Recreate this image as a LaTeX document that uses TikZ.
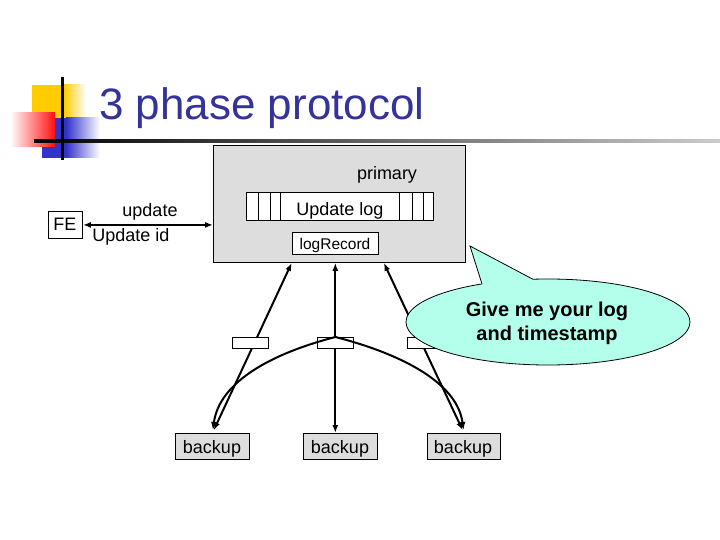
\documentclass[tikz,border=0pt]{standalone}
\usepackage{fontspec}
\setmainfont{Liberation Sans}
\usetikzlibrary{arrows.meta}
\definecolor{titleblue}{HTML}{333399}
\definecolor{boxgray}{HTML}{DDDDDD}
\definecolor{bubble}{HTML}{B4FFEC}
\definecolor{decoyellow}{HTML}{FFCC00}
\definecolor{decoblue}{HTML}{3333CC}
\definecolor{decored}{HTML}{FF1010}
\tikzset{
  plainbox/.style={draw, line width=0.9pt, fill=white, inner sep=0pt, anchor=north west},
  graybox/.style={plainbox, fill=boxgray},
  txt/.style={inner sep=0pt, anchor=base, font=\fontsize{18}{20}\selectfont},
  link/.style={line width=2pt, {Latex[length=8pt,width=6pt]}-{Latex[length=8pt,width=6pt]}},
  tolink/.style={line width=2pt, -{Latex[length=8pt,width=6pt]}}
}
\begin{document}
\begin{tikzpicture}[x=1pt,y=-1pt]
  \useasboundingbox (0,0) rectangle (720,540);
  % title decoration
  \fill [decoyellow] (32,85) rectangle (64,120);
  \shade [left color=decoyellow,right color=white] (64,85) rectangle (86,120);
  \fill [decoblue] (42,118) rectangle (66,158);
  \shade [left color=decoblue,right color=white] (66,118) rectangle (100,158);
  \shade [left color=white,right color=decored] (10,113) rectangle (55,147);
  \shade [left color=black,right color=black!20] (34,139.5) rectangle (720,142.5);
  \draw [line width=3pt] (62,77) -- (62,160);
  \node [inner sep=0pt, anchor=base west, text=titleblue, font=\fontsize{44}{48}\selectfont] (title) at (99,120) {3 phase protocol};

  % primary
  \node [graybox, minimum width=252pt, minimum height=117pt] (primary) at (213,145) {};
  \node [txt] (primlabel) at (387,180) {primary};
  \node [plainbox, minimum width=187pt, minimum height=28pt] (log) at (246,192) {};
  \foreach \x in {258,270,280,399,412,423}
    \draw [line width=0.9pt] (\x,192) -- (\x,220);
  \node [txt] (loglabel) at (340,215) {Update log};
  \node [plainbox, minimum width=86pt, minimum height=22pt] (rec) at (292,232) {};
  \node [txt, font=\fontsize{15.5}{18}\selectfont] (reclabel) at (335,249) {logRecord};

  % front end
  \node [plainbox, minimum width=34pt, minimum height=27pt] (FE) at (48,211) {};
  \node [txt] (FElabel) at (65,230) {FE};
  \draw [link] (FE.east) -- (FE.east -| primary.west);
  \node [txt] (upd) at (150,216) {update};
  \node [txt] (updid) at (131,241) {Update id};

  % backups
  \node [graybox, minimum width=74pt, minimum height=26pt] (b1) at (175,433) {};
  \node [graybox, minimum width=74pt, minimum height=26pt] (b2) at (303,433) {};
  \node [graybox, minimum width=73pt, minimum height=26pt] (b3) at (427,433) {};
  \node [txt] (b1label) at (212,453) {backup};
  \node [txt] (b2label) at (340,453) {backup};
  \node [txt] (b3label) at (463,453) {backup};

  \draw [link, shorten >=3pt] (primary.231) -- (b1.north);
  \draw [link] (primary.266) -- (primary.266 |- b2.north);
  \draw [link, shorten >=3pt] (primary.307) -- (b3.north);

  \node [plainbox, minimum width=36pt, minimum height=11pt] (m1) at (232,337) {};
  \node [plainbox, minimum width=36pt, minimum height=11pt] (m2) at (317,337) {};
  \node [plainbox, minimum width=35pt, minimum height=11pt] (m3) at (407,337) {};

  \draw [tolink, shorten >=3pt] (m2.north) .. controls +(-62,16) and +(7,-52) .. (b1.north);
  \draw [tolink, shorten >=3pt] (m2.north) .. controls +(62,16) and +(-7,-52) .. (b3.north);

  % callout
  \fill [bubble] (548,322) ellipse [x radius=142, y radius=43];
  \draw [line width=0.8pt] (548,322) ellipse [x radius=142, y radius=43];
  \fill [bubble] (482,284) -- (470,246) -- (533,279.3) -- (533,286) -- (482,289) -- cycle;
  \draw [line width=0.8pt] (482,284) -- (470,246) -- (533,279.3);
  \node [txt, font=\fontsize{20}{22}\bfseries\selectfont] (say1) at (547,316) {Give me your log};
  \node [txt, font=\fontsize{20}{22}\bfseries\selectfont] (say2) at (547,340) {and timestamp};
\end{tikzpicture}
\end{document}
